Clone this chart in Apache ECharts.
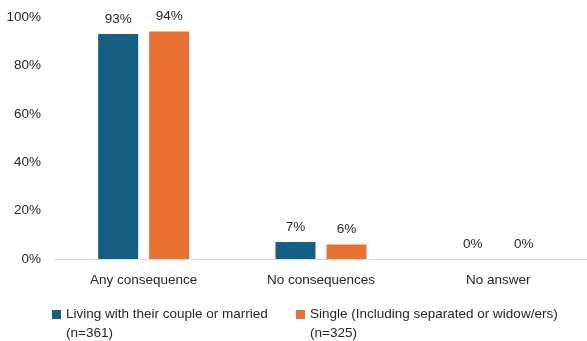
<!DOCTYPE html>
<html><head><meta charset="utf-8">
<script src="https://cdn.jsdelivr.net/npm/echarts@6/dist/echarts.min.js"></script>
<style>html,body{margin:0;padding:0;background:#fff}#c{width:587px;height:341px}</style>
</head><body><div id="c"></div>
<script>
const categories = ['Any consequence', 'No consequences', 'No answer'];
const seriesNames = ['Living with their couple or married\n(n=361)', 'Single (Including separated or widow/ers)\n(n=325)'];
const coupleValues = [93, 7, 0];
const singleValues = [94, 6, 0];
const yTicks = [0, 20, 40, 60, 80, 100];

const FONT = 'Liberation Sans';
const TXT = '#262626';
const chart = echarts.init(document.getElementById('c'), null, {renderer: 'canvas'});
const lbl = {show: true, position: 'top', distance: 8, formatter: p => p.value + '%', fontFamily: FONT, fontSize: 13.5, color: TXT};
const legendBase = {
  orient: 'horizontal', itemWidth: 9, itemHeight: 9, itemGap: 0, padding: 0,
  icon: 'rect',
  formatter: n => '\n' + n,
  textStyle: {fontFamily: FONT, fontSize: 13.5, color: TXT, lineHeight: 19},
  itemStyle: {borderWidth: 0}
};
chart.setOption({
  animation: false,
  color: ['#156082', '#E97132'],
  grid: {left: 55, top: 17, width: 537, height: 242, containLabel: false},
  legend: [
    Object.assign({}, legendBase, {data: [seriesNames[0]], left: 52, top: 286}),
    Object.assign({}, legendBase, {data: [seriesNames[1]], left: 296, top: 286})
  ],
  xAxis: {
    type: 'category', data: categories,
    axisLine: {lineStyle: {color: '#D9D9D9', width: 1}},
    axisTick: {show: false},
    axisLabel: {fontFamily: FONT, fontSize: 13.5, color: TXT, margin: 14}
  },
  yAxis: {
    type: 'value', min: yTicks[0], max: yTicks[yTicks.length - 1], interval: 20,
    axisLine: {show: false}, axisTick: {show: false}, splitLine: {show: false},
    axisLabel: {fontFamily: FONT, fontSize: 13.5, color: TXT, margin: 14, formatter: v => v + '%'}
  },
  series: [
    {name: seriesNames[0], type: 'bar', data: coupleValues, barWidth: 40, barGap: '27.5%', label: lbl},
    {name: seriesNames[1], type: 'bar', data: singleValues, barWidth: 40, barGap: '27.5%', label: lbl}
  ]
});
</script></body></html>
